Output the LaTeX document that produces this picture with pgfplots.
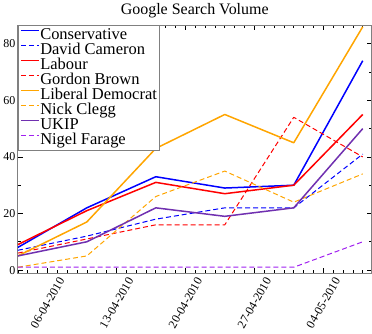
\documentclass[border=0pt]{standalone}
\usepackage{fontspec}
\setmainfont{Liberation Serif}
\usepackage{pgfplots}
\pgfplotsset{compat=1.18}
\definecolor{ukip}{RGB}{112,48,176}
\definecolor{farage}{RGB}{160,32,240}
\definecolor{ldorange}{RGB}{255,165,0}
% x = days after 03-04-2010, one point per week
\begin{document}
\begin{tikzpicture}
\begin{axis}[
  width=353bp, height=247bp, scale only axis,
  xmin=0, xmax=35.9, ymin=-1, ymax=86.5,
  xtick={3,10,17,24,31},
  xticklabels={06-04-2010,13-04-2010,20-04-2010,27-04-2010,04-05-2010},
  minor xtick={0,...,35},
  ytick={0,20,40,60,80}, minor ytick={10,30,50,70},
  /pgf/number format/assume math mode=true,
  ticklabel style={font=\fontsize{12}{12}\selectfont},
  xticklabel style={yshift=-30bp, rotate=60, anchor=center},
  yticklabel style={xshift=1bp},
  axis line style={gray, line width=0.8pt},
  tick style={black, line width=0.6pt},
  major tick length=5bp, minor tick length=3bp,
  title={Google Search Volume},
  title style={font=\fontsize{16}{16}\selectfont, yshift=-2bp},
  legend style={at={(0,1)}, anchor=north west, draw=gray, line width=0.8pt,
    fill=white, inner sep=2pt, font=\fontsize{16.5}{16.5}\selectfont,
    nodes={inner sep=0.5bp, text height=10.8bp, text depth=3.2bp}},
  legend cell align=left,
  legend image code/.code={\draw[#1, line width=1.5pt] (0bp,5bp) -- (18bp,5bp);},
  every axis plot/.append style={line join=round},
]
\addplot[draw=blue, line width=1.5pt] coordinates {(0,8)(7,22)(14,33)(21,29)(28,30)(35,74)};
\addlegendentry{Conservative}
\addplot[draw=blue, line width=1pt, dash pattern=on 5pt off 3pt] coordinates {(0,7)(7,12)(14,18)(21,22)(28,22)(35,41)};
\addlegendentry{David Cameron}
\addplot[draw=red, line width=1.5pt] coordinates {(0,9)(7,21)(14,31)(21,27)(28,30)(35,55)};
\addlegendentry{Labour}
\addplot[draw=red, line width=1pt, dash pattern=on 5pt off 3pt] coordinates {(0,6)(7,11)(14,16)(21,16)(28,54)(35,40)};
\addlegendentry{Gordon Brown}
\addplot[draw=ldorange, line width=1.5pt] coordinates {(0,5)(7,17)(14,43)(21,55)(28,45)(35,86)};
\addlegendentry{Liberal Democrat}
\addplot[draw=ldorange, line width=1pt, dash pattern=on 5pt off 3pt] coordinates {(0,1)(7,5)(14,26)(21,35)(28,24)(35,34)};
\addlegendentry{Nick Clegg}
\addplot[draw=ukip, line width=1.5pt] coordinates {(0,5)(7,10)(14,22)(21,19)(28,22)(35,50)};
\addlegendentry{UKIP}
\addplot[draw=farage, line width=1pt, dash pattern=on 5pt off 3pt] coordinates {(0,1)(7,1)(14,1)(21,1)(28,1)(35,10)};
\addlegendentry{Nigel Farage}
\end{axis}
\end{tikzpicture}
\end{document}
